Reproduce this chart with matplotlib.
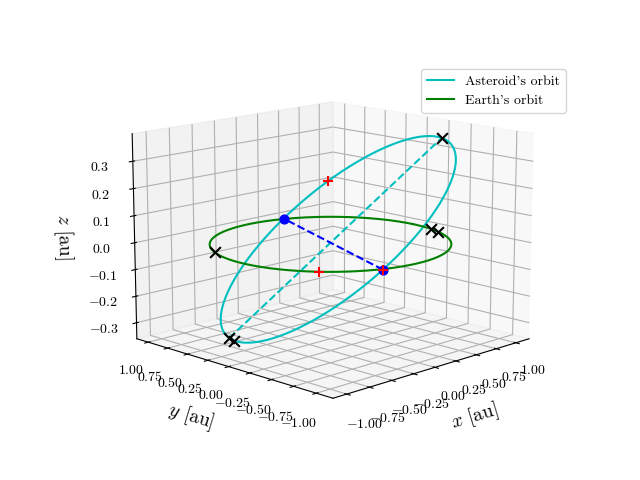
import numpy as np
import matplotlib
matplotlib.use("Agg")
import matplotlib.pyplot as plt

plt.rcParams['font.family'] = 'serif'
plt.rcParams['font.serif'] = ['cmr10', 'DejaVu Serif']
plt.rcParams['mathtext.fontset'] = 'cm'
plt.rcParams['axes.formatter.use_mathtext'] = True

# orbital elements of the asteroid
a_ast = 1.02
e_ast = 0.06
inc_deg = 19.0
Omega_deg = 249.0
omega_deg = 270.0
# marked true anomalies (deg)
red_ast_nu = [-114.0, 90.0]
red_earth_deg = [220.0]
black_ast_nu = [180.0, 0.0, 6.0]
black_earth_deg = [339.0, 346.0, 155.0]
xy_ticks = [-1.0, -0.75, -0.5, -0.25, 0.0, 0.25, 0.5, 0.75, 1.0]
z_ticks = [-0.3, -0.2, -0.1, 0.0, 0.1, 0.2, 0.3]

def orbit_xyz(nu_deg):
    nu = np.radians(np.asarray(nu_deg, dtype=float))
    r = a_ast * (1 - e_ast**2) / (1 + e_ast * np.cos(nu))
    i = np.radians(inc_deg); O = np.radians(Omega_deg); w = np.radians(omega_deg)
    u = w + nu
    x = r * (np.cos(O) * np.cos(u) - np.sin(O) * np.sin(u) * np.cos(i))
    y = r * (np.sin(O) * np.cos(u) + np.cos(O) * np.sin(u) * np.cos(i))
    z = r * np.sin(u) * np.sin(i)
    return x, y, z

fig = plt.figure(figsize=(6.4, 4.8), dpi=100)
ax = fig.add_subplot(projection='3d')
nu_all = np.linspace(0, 360, 400)
xa, ya, za = orbit_xyz(nu_all)
ax.plot(xa, ya, za, color='c', label="Asteroid's orbit")
th = np.radians(np.linspace(0, 360, 400))
ax.plot(np.cos(th), np.sin(th), np.zeros_like(th), color='g', label="Earth's orbit")

xp, yp, zp = orbit_xyz([0.0, 180.0])
ax.plot(xp, yp, zp, 'c--')
xn, yn, zn = orbit_xyz([-omega_deg, 180 - omega_deg])
ax.plot(xn, yn, zn, 'b--')
ax.scatter(xn, yn, zn, color='b', s=40, depthshade=False)

xr, yr, zr = orbit_xyz(red_ast_nu)
te = np.radians(red_earth_deg)
ax.scatter(np.r_[xr, np.cos(te)], np.r_[yr, np.sin(te)], np.r_[zr, 0*te],
           color='r', marker='+', s=60, depthshade=False)
xb, yb, zb = orbit_xyz(black_ast_nu)
te = np.radians(black_earth_deg)
ax.scatter(np.r_[xb, np.cos(te)], np.r_[yb, np.sin(te)], np.r_[zb, 0*te],
           color='k', marker='x', s=60, depthshade=False)

ax.set_xticks(xy_ticks); ax.set_yticks(xy_ticks); ax.set_zticks(z_ticks)
ax.set_xlabel(r'$x$ [au]', fontsize=14)
ax.set_ylabel(r'$y$ [au]', fontsize=14)
ax.set_zlabel(r'$z$ [au]', fontsize=14)
ax.view_init(elev=13, azim=-135)
ax.set_box_aspect(None, zoom=1.18)
ax.legend(loc='upper right', bbox_to_anchor=(0.895, 0.87), bbox_transform=fig.transFigure)
fig.savefig('out.png', dpi=100)
